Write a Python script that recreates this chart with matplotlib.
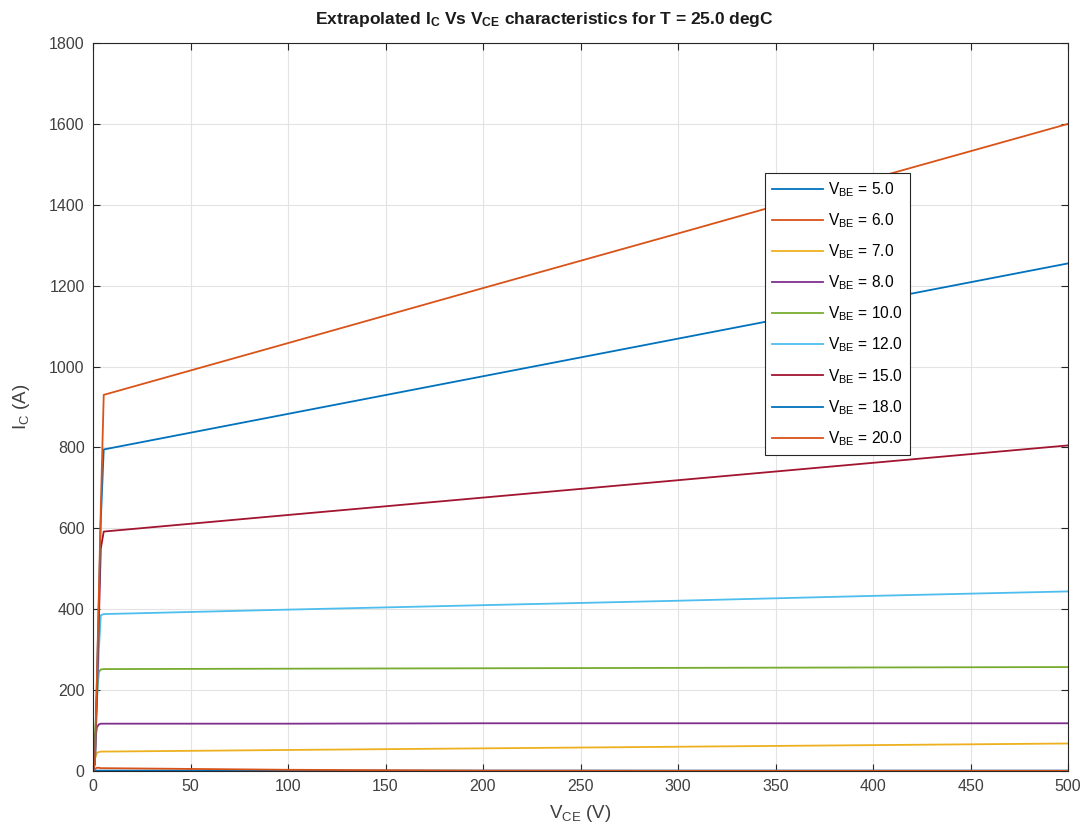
import matplotlib
matplotlib.use("Agg")
import matplotlib.pyplot as plt

plt.rcParams['font.family'] = ['Liberation Sans', 'DejaVu Sans']
plt.rcParams['mathtext.fontset'] = 'custom'
plt.rcParams['mathtext.rm'] = 'Liberation Sans'
plt.rcParams['mathtext.it'] = 'Liberation Sans'
plt.rcParams['mathtext.bf'] = 'Liberation Sans:bold'

# collector-emitter voltage sample points (V)
vce = [0, 1, 2, 3, 4, 5.5, 100, 200, 300, 400, 500]

# base voltages of the curves
vbe = [5.0, 6.0, 7.0, 8.0, 10.0, 12.0, 15.0, 18.0, 20.0]

# collector current (A), one list per V_BE
ic_5 = [0, 0.5, 1, 1, 1, 1, 1, 1, 1, 1, 1]
ic_6 = [0, 5, 8, 8, 7, 7, 3, 1, 0.5, 0.5, 0.5]
ic_7 = [0, 30, 45, 47, 48, 48, 52, 56, 60, 64, 68]
ic_8 = [0, 70, 108, 115, 117, 117, 117, 118, 118, 118, 118]
ic_10 = [0, 90, 180, 245, 251, 252, 253, 254, 255, 256, 257]
ic_12 = [0, 20, 160, 300, 385, 388, 399, 410, 421, 433, 444]
ic_15 = [0, 20, 190, 370, 550, 592, 633, 676, 719, 762, 805]
ic_18 = [0, 20, 220, 420, 620, 795, 883, 976, 1069, 1162, 1255]
ic_20 = [0, 20, 230, 440, 650, 930, 1058, 1194, 1329, 1465, 1600]
ic_all = [ic_5, ic_6, ic_7, ic_8, ic_10, ic_12, ic_15, ic_18, ic_20]

colors = ['#0072BD', '#D95319', '#EDB120', '#7E2F8E', '#77AC30',
          '#4DBEEE', '#A2142F', '#0072BD', '#D95319']

fig = plt.figure(figsize=(10.87, 8.39), dpi=100)
ax = fig.add_axes([93/1087, 68/839, 975/1087, 728/839])

for v, ic, c in zip(vbe, ic_all, colors):
    ax.plot(vce, ic, color=c, lw=1.3, label=r'$\mathregular{V_{BE}}$ = %.1f' % v)

ax.set_xlim(0, 500)
ax.set_ylim(0, 1800)
ax.set_xticks(range(0, 501, 50))
ax.set_yticks(range(0, 1801, 200))
ax.grid(True, color='#e3e3e3', lw=0.8)
ax.tick_params(direction='in', top=True, right=True, labelsize=11.5,
               colors='#262626', labelcolor='#404040', length=5, pad=6)
for s in ax.spines.values():
    s.set_color('#262626')
    s.set_linewidth(0.8)

ax.set_xlabel(r'$\mathregular{V_{CE}}$ (V)', fontsize=13.5, color='#404040', labelpad=6)
ax.set_ylabel(r'$\mathregular{I_C}$ (A)', fontsize=13.5, color='#404040', labelpad=12)
ax.set_title(r'Extrapolated $\mathbf{I_C}$ Vs $\mathbf{V_{CE}}$ characteristics for T = 25.0 degC',
             fontsize=12.5, fontweight='bold', color='#1a1a1a', pad=14, x=0.463)

leg = ax.legend(loc='upper left', bbox_to_anchor=((765-93)/975, (771-173)/728),
                borderaxespad=0, fontsize=11.2, fancybox=False, framealpha=1,
                edgecolor='#262626', handlelength=3.3, labelspacing=0.8,
                handletextpad=0.3, borderpad=0.45)
leg.get_frame().set_linewidth(0.8)

fig.savefig('out.png', dpi=100, facecolor='white')
